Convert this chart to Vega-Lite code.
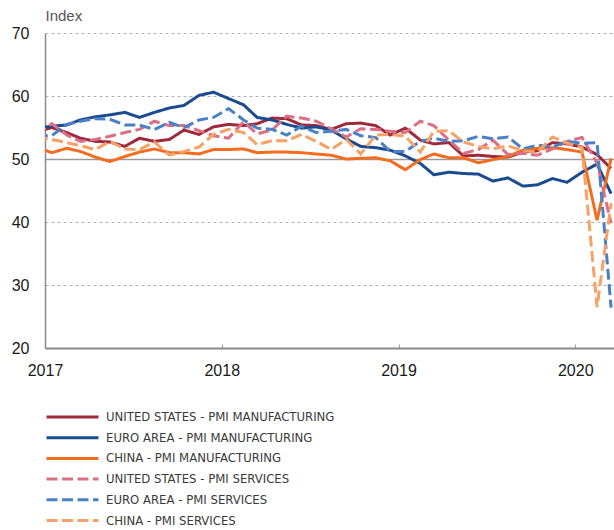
{
"$schema":"https://vega.github.io/schema/vega-lite/v6.json",
"width":569,"height":315,
"autosize":{"type":"none"},
"padding":{"left":45,"top":33,"right":0,"bottom":182},
"background":"white",
"config":{"view":{"stroke":null},"font":"Liberation Sans",
"legend":{"orient":"none","legendX":0,"legendY":376,"direction":"vertical","symbolType":"stroke","symbolSize":2704,"symbolStrokeWidth":3,"clipHeight":16,"labelFont":"DejaVu Sans Condensed, Liberation Sans Narrow, sans-serif","labelFontSize":13,"labelColor":"#3a3a3a","labelLimit":500,"labelOffset":6,"rowPadding":4.7}},
"data":{"values":[
{"series":"UNITED STATES - PMI MANUFACTURING","date":"2016-12-15","value":54.3},
{"series":"UNITED STATES - PMI MANUFACTURING","date":"2017-01-15","value":55.0},
{"series":"UNITED STATES - PMI MANUFACTURING","date":"2017-02-15","value":54.2},
{"series":"UNITED STATES - PMI MANUFACTURING","date":"2017-03-15","value":53.3},
{"series":"UNITED STATES - PMI MANUFACTURING","date":"2017-04-15","value":52.8},
{"series":"UNITED STATES - PMI MANUFACTURING","date":"2017-05-15","value":52.7},
{"series":"UNITED STATES - PMI MANUFACTURING","date":"2017-06-15","value":52.0},
{"series":"UNITED STATES - PMI MANUFACTURING","date":"2017-07-15","value":53.3},
{"series":"UNITED STATES - PMI MANUFACTURING","date":"2017-08-15","value":52.8},
{"series":"UNITED STATES - PMI MANUFACTURING","date":"2017-09-15","value":53.1},
{"series":"UNITED STATES - PMI MANUFACTURING","date":"2017-10-15","value":54.6},
{"series":"UNITED STATES - PMI MANUFACTURING","date":"2017-11-15","value":53.9},
{"series":"UNITED STATES - PMI MANUFACTURING","date":"2017-12-15","value":55.1},
{"series":"UNITED STATES - PMI MANUFACTURING","date":"2018-01-15","value":55.5},
{"series":"UNITED STATES - PMI MANUFACTURING","date":"2018-02-15","value":55.3},
{"series":"UNITED STATES - PMI MANUFACTURING","date":"2018-03-15","value":55.6},
{"series":"UNITED STATES - PMI MANUFACTURING","date":"2018-04-15","value":56.5},
{"series":"UNITED STATES - PMI MANUFACTURING","date":"2018-05-15","value":56.4},
{"series":"UNITED STATES - PMI MANUFACTURING","date":"2018-06-15","value":55.4},
{"series":"UNITED STATES - PMI MANUFACTURING","date":"2018-07-15","value":55.3},
{"series":"UNITED STATES - PMI MANUFACTURING","date":"2018-08-15","value":54.7},
{"series":"UNITED STATES - PMI MANUFACTURING","date":"2018-09-15","value":55.6},
{"series":"UNITED STATES - PMI MANUFACTURING","date":"2018-10-15","value":55.7},
{"series":"UNITED STATES - PMI MANUFACTURING","date":"2018-11-15","value":55.3},
{"series":"UNITED STATES - PMI MANUFACTURING","date":"2018-12-15","value":53.8},
{"series":"UNITED STATES - PMI MANUFACTURING","date":"2019-01-15","value":54.9},
{"series":"UNITED STATES - PMI MANUFACTURING","date":"2019-02-15","value":53.0},
{"series":"UNITED STATES - PMI MANUFACTURING","date":"2019-03-15","value":52.4},
{"series":"UNITED STATES - PMI MANUFACTURING","date":"2019-04-15","value":52.6},
{"series":"UNITED STATES - PMI MANUFACTURING","date":"2019-05-15","value":50.5},
{"series":"UNITED STATES - PMI MANUFACTURING","date":"2019-06-15","value":50.6},
{"series":"UNITED STATES - PMI MANUFACTURING","date":"2019-07-15","value":50.4},
{"series":"UNITED STATES - PMI MANUFACTURING","date":"2019-08-15","value":50.3},
{"series":"UNITED STATES - PMI MANUFACTURING","date":"2019-09-15","value":51.1},
{"series":"UNITED STATES - PMI MANUFACTURING","date":"2019-10-15","value":51.3},
{"series":"UNITED STATES - PMI MANUFACTURING","date":"2019-11-15","value":52.6},
{"series":"UNITED STATES - PMI MANUFACTURING","date":"2019-12-15","value":52.4},
{"series":"UNITED STATES - PMI MANUFACTURING","date":"2020-01-15","value":51.9},
{"series":"UNITED STATES - PMI MANUFACTURING","date":"2020-02-15","value":50.7},
{"series":"UNITED STATES - PMI MANUFACTURING","date":"2020-03-15","value":48.5},
{"series":"EURO AREA - PMI MANUFACTURING","date":"2016-12-15","value":54.9},
{"series":"EURO AREA - PMI MANUFACTURING","date":"2017-01-15","value":55.2},
{"series":"EURO AREA - PMI MANUFACTURING","date":"2017-02-15","value":55.4},
{"series":"EURO AREA - PMI MANUFACTURING","date":"2017-03-15","value":56.2},
{"series":"EURO AREA - PMI MANUFACTURING","date":"2017-04-15","value":56.7},
{"series":"EURO AREA - PMI MANUFACTURING","date":"2017-05-15","value":57.0},
{"series":"EURO AREA - PMI MANUFACTURING","date":"2017-06-15","value":57.4},
{"series":"EURO AREA - PMI MANUFACTURING","date":"2017-07-15","value":56.6},
{"series":"EURO AREA - PMI MANUFACTURING","date":"2017-08-15","value":57.4},
{"series":"EURO AREA - PMI MANUFACTURING","date":"2017-09-15","value":58.1},
{"series":"EURO AREA - PMI MANUFACTURING","date":"2017-10-15","value":58.5},
{"series":"EURO AREA - PMI MANUFACTURING","date":"2017-11-15","value":60.1},
{"series":"EURO AREA - PMI MANUFACTURING","date":"2017-12-15","value":60.6},
{"series":"EURO AREA - PMI MANUFACTURING","date":"2018-01-15","value":59.6},
{"series":"EURO AREA - PMI MANUFACTURING","date":"2018-02-15","value":58.6},
{"series":"EURO AREA - PMI MANUFACTURING","date":"2018-03-15","value":56.6},
{"series":"EURO AREA - PMI MANUFACTURING","date":"2018-04-15","value":56.2},
{"series":"EURO AREA - PMI MANUFACTURING","date":"2018-05-15","value":55.5},
{"series":"EURO AREA - PMI MANUFACTURING","date":"2018-06-15","value":54.9},
{"series":"EURO AREA - PMI MANUFACTURING","date":"2018-07-15","value":55.1},
{"series":"EURO AREA - PMI MANUFACTURING","date":"2018-08-15","value":54.6},
{"series":"EURO AREA - PMI MANUFACTURING","date":"2018-09-15","value":53.2},
{"series":"EURO AREA - PMI MANUFACTURING","date":"2018-10-15","value":52.0},
{"series":"EURO AREA - PMI MANUFACTURING","date":"2018-11-15","value":51.8},
{"series":"EURO AREA - PMI MANUFACTURING","date":"2018-12-15","value":51.4},
{"series":"EURO AREA - PMI MANUFACTURING","date":"2019-01-15","value":50.5},
{"series":"EURO AREA - PMI MANUFACTURING","date":"2019-02-15","value":49.3},
{"series":"EURO AREA - PMI MANUFACTURING","date":"2019-03-15","value":47.5},
{"series":"EURO AREA - PMI MANUFACTURING","date":"2019-04-15","value":47.9},
{"series":"EURO AREA - PMI MANUFACTURING","date":"2019-05-15","value":47.7},
{"series":"EURO AREA - PMI MANUFACTURING","date":"2019-06-15","value":47.6},
{"series":"EURO AREA - PMI MANUFACTURING","date":"2019-07-15","value":46.5},
{"series":"EURO AREA - PMI MANUFACTURING","date":"2019-08-15","value":47.0},
{"series":"EURO AREA - PMI MANUFACTURING","date":"2019-09-15","value":45.7},
{"series":"EURO AREA - PMI MANUFACTURING","date":"2019-10-15","value":45.9},
{"series":"EURO AREA - PMI MANUFACTURING","date":"2019-11-15","value":46.9},
{"series":"EURO AREA - PMI MANUFACTURING","date":"2019-12-15","value":46.3},
{"series":"EURO AREA - PMI MANUFACTURING","date":"2020-01-15","value":47.9},
{"series":"EURO AREA - PMI MANUFACTURING","date":"2020-02-15","value":49.2},
{"series":"EURO AREA - PMI MANUFACTURING","date":"2020-03-15","value":44.5},
{"series":"CHINA - PMI MANUFACTURING","date":"2016-12-15","value":51.9},
{"series":"CHINA - PMI MANUFACTURING","date":"2017-01-15","value":51.0},
{"series":"CHINA - PMI MANUFACTURING","date":"2017-02-15","value":51.7},
{"series":"CHINA - PMI MANUFACTURING","date":"2017-03-15","value":51.2},
{"series":"CHINA - PMI MANUFACTURING","date":"2017-04-15","value":50.3},
{"series":"CHINA - PMI MANUFACTURING","date":"2017-05-15","value":49.6},
{"series":"CHINA - PMI MANUFACTURING","date":"2017-06-15","value":50.4},
{"series":"CHINA - PMI MANUFACTURING","date":"2017-07-15","value":51.1},
{"series":"CHINA - PMI MANUFACTURING","date":"2017-08-15","value":51.6},
{"series":"CHINA - PMI MANUFACTURING","date":"2017-09-15","value":51.0},
{"series":"CHINA - PMI MANUFACTURING","date":"2017-10-15","value":51.0},
{"series":"CHINA - PMI MANUFACTURING","date":"2017-11-15","value":50.8},
{"series":"CHINA - PMI MANUFACTURING","date":"2017-12-15","value":51.5},
{"series":"CHINA - PMI MANUFACTURING","date":"2018-01-15","value":51.5},
{"series":"CHINA - PMI MANUFACTURING","date":"2018-02-15","value":51.6},
{"series":"CHINA - PMI MANUFACTURING","date":"2018-03-15","value":51.0},
{"series":"CHINA - PMI MANUFACTURING","date":"2018-04-15","value":51.1},
{"series":"CHINA - PMI MANUFACTURING","date":"2018-05-15","value":51.1},
{"series":"CHINA - PMI MANUFACTURING","date":"2018-06-15","value":51.0},
{"series":"CHINA - PMI MANUFACTURING","date":"2018-07-15","value":50.8},
{"series":"CHINA - PMI MANUFACTURING","date":"2018-08-15","value":50.6},
{"series":"CHINA - PMI MANUFACTURING","date":"2018-09-15","value":50.0},
{"series":"CHINA - PMI MANUFACTURING","date":"2018-10-15","value":50.1},
{"series":"CHINA - PMI MANUFACTURING","date":"2018-11-15","value":50.2},
{"series":"CHINA - PMI MANUFACTURING","date":"2018-12-15","value":49.7},
{"series":"CHINA - PMI MANUFACTURING","date":"2019-01-15","value":48.3},
{"series":"CHINA - PMI MANUFACTURING","date":"2019-02-15","value":49.9},
{"series":"CHINA - PMI MANUFACTURING","date":"2019-03-15","value":50.8},
{"series":"CHINA - PMI MANUFACTURING","date":"2019-04-15","value":50.2},
{"series":"CHINA - PMI MANUFACTURING","date":"2019-05-15","value":50.2},
{"series":"CHINA - PMI MANUFACTURING","date":"2019-06-15","value":49.4},
{"series":"CHINA - PMI MANUFACTURING","date":"2019-07-15","value":49.9},
{"series":"CHINA - PMI MANUFACTURING","date":"2019-08-15","value":50.4},
{"series":"CHINA - PMI MANUFACTURING","date":"2019-09-15","value":51.4},
{"series":"CHINA - PMI MANUFACTURING","date":"2019-10-15","value":51.7},
{"series":"CHINA - PMI MANUFACTURING","date":"2019-11-15","value":51.8},
{"series":"CHINA - PMI MANUFACTURING","date":"2019-12-15","value":51.5},
{"series":"CHINA - PMI MANUFACTURING","date":"2020-01-15","value":51.1},
{"series":"CHINA - PMI MANUFACTURING","date":"2020-02-15","value":40.3},
{"series":"CHINA - PMI MANUFACTURING","date":"2020-03-15","value":50.1},
{"series":"UNITED STATES - PMI SERVICES","date":"2016-12-15","value":53.9},
{"series":"UNITED STATES - PMI SERVICES","date":"2017-01-15","value":55.6},
{"series":"UNITED STATES - PMI SERVICES","date":"2017-02-15","value":53.8},
{"series":"UNITED STATES - PMI SERVICES","date":"2017-03-15","value":52.8},
{"series":"UNITED STATES - PMI SERVICES","date":"2017-04-15","value":53.1},
{"series":"UNITED STATES - PMI SERVICES","date":"2017-05-15","value":53.6},
{"series":"UNITED STATES - PMI SERVICES","date":"2017-06-15","value":54.2},
{"series":"UNITED STATES - PMI SERVICES","date":"2017-07-15","value":54.7},
{"series":"UNITED STATES - PMI SERVICES","date":"2017-08-15","value":56.0},
{"series":"UNITED STATES - PMI SERVICES","date":"2017-09-15","value":55.3},
{"series":"UNITED STATES - PMI SERVICES","date":"2017-10-15","value":55.3},
{"series":"UNITED STATES - PMI SERVICES","date":"2017-11-15","value":54.5},
{"series":"UNITED STATES - PMI SERVICES","date":"2017-12-15","value":53.7},
{"series":"UNITED STATES - PMI SERVICES","date":"2018-01-15","value":53.3},
{"series":"UNITED STATES - PMI SERVICES","date":"2018-02-15","value":55.9},
{"series":"UNITED STATES - PMI SERVICES","date":"2018-03-15","value":54.0},
{"series":"UNITED STATES - PMI SERVICES","date":"2018-04-15","value":54.6},
{"series":"UNITED STATES - PMI SERVICES","date":"2018-05-15","value":56.8},
{"series":"UNITED STATES - PMI SERVICES","date":"2018-06-15","value":56.5},
{"series":"UNITED STATES - PMI SERVICES","date":"2018-07-15","value":56.0},
{"series":"UNITED STATES - PMI SERVICES","date":"2018-08-15","value":54.8},
{"series":"UNITED STATES - PMI SERVICES","date":"2018-09-15","value":53.5},
{"series":"UNITED STATES - PMI SERVICES","date":"2018-10-15","value":54.8},
{"series":"UNITED STATES - PMI SERVICES","date":"2018-11-15","value":54.7},
{"series":"UNITED STATES - PMI SERVICES","date":"2018-12-15","value":54.4},
{"series":"UNITED STATES - PMI SERVICES","date":"2019-01-15","value":54.2},
{"series":"UNITED STATES - PMI SERVICES","date":"2019-02-15","value":56.0},
{"series":"UNITED STATES - PMI SERVICES","date":"2019-03-15","value":55.3},
{"series":"UNITED STATES - PMI SERVICES","date":"2019-04-15","value":53.0},
{"series":"UNITED STATES - PMI SERVICES","date":"2019-05-15","value":50.9},
{"series":"UNITED STATES - PMI SERVICES","date":"2019-06-15","value":51.5},
{"series":"UNITED STATES - PMI SERVICES","date":"2019-07-15","value":53.0},
{"series":"UNITED STATES - PMI SERVICES","date":"2019-08-15","value":50.7},
{"series":"UNITED STATES - PMI SERVICES","date":"2019-09-15","value":50.9},
{"series":"UNITED STATES - PMI SERVICES","date":"2019-10-15","value":50.6},
{"series":"UNITED STATES - PMI SERVICES","date":"2019-11-15","value":51.6},
{"series":"UNITED STATES - PMI SERVICES","date":"2019-12-15","value":52.8},
{"series":"UNITED STATES - PMI SERVICES","date":"2020-01-15","value":53.4},
{"series":"UNITED STATES - PMI SERVICES","date":"2020-02-15","value":49.4},
{"series":"UNITED STATES - PMI SERVICES","date":"2020-03-15","value":39.8},
{"series":"EURO AREA - PMI SERVICES","date":"2016-12-15","value":53.7},
{"series":"EURO AREA - PMI SERVICES","date":"2017-01-15","value":53.7},
{"series":"EURO AREA - PMI SERVICES","date":"2017-02-15","value":55.5},
{"series":"EURO AREA - PMI SERVICES","date":"2017-03-15","value":56.0},
{"series":"EURO AREA - PMI SERVICES","date":"2017-04-15","value":56.4},
{"series":"EURO AREA - PMI SERVICES","date":"2017-05-15","value":56.3},
{"series":"EURO AREA - PMI SERVICES","date":"2017-06-15","value":55.4},
{"series":"EURO AREA - PMI SERVICES","date":"2017-07-15","value":55.4},
{"series":"EURO AREA - PMI SERVICES","date":"2017-08-15","value":54.7},
{"series":"EURO AREA - PMI SERVICES","date":"2017-09-15","value":55.8},
{"series":"EURO AREA - PMI SERVICES","date":"2017-10-15","value":55.0},
{"series":"EURO AREA - PMI SERVICES","date":"2017-11-15","value":56.2},
{"series":"EURO AREA - PMI SERVICES","date":"2017-12-15","value":56.6},
{"series":"EURO AREA - PMI SERVICES","date":"2018-01-15","value":58.0},
{"series":"EURO AREA - PMI SERVICES","date":"2018-02-15","value":56.2},
{"series":"EURO AREA - PMI SERVICES","date":"2018-03-15","value":54.9},
{"series":"EURO AREA - PMI SERVICES","date":"2018-04-15","value":54.7},
{"series":"EURO AREA - PMI SERVICES","date":"2018-05-15","value":53.8},
{"series":"EURO AREA - PMI SERVICES","date":"2018-06-15","value":55.2},
{"series":"EURO AREA - PMI SERVICES","date":"2018-07-15","value":54.2},
{"series":"EURO AREA - PMI SERVICES","date":"2018-08-15","value":54.4},
{"series":"EURO AREA - PMI SERVICES","date":"2018-09-15","value":54.7},
{"series":"EURO AREA - PMI SERVICES","date":"2018-10-15","value":53.7},
{"series":"EURO AREA - PMI SERVICES","date":"2018-11-15","value":53.4},
{"series":"EURO AREA - PMI SERVICES","date":"2018-12-15","value":51.2},
{"series":"EURO AREA - PMI SERVICES","date":"2019-01-15","value":51.2},
{"series":"EURO AREA - PMI SERVICES","date":"2019-02-15","value":52.8},
{"series":"EURO AREA - PMI SERVICES","date":"2019-03-15","value":53.3},
{"series":"EURO AREA - PMI SERVICES","date":"2019-04-15","value":52.8},
{"series":"EURO AREA - PMI SERVICES","date":"2019-05-15","value":52.9},
{"series":"EURO AREA - PMI SERVICES","date":"2019-06-15","value":53.6},
{"series":"EURO AREA - PMI SERVICES","date":"2019-07-15","value":53.2},
{"series":"EURO AREA - PMI SERVICES","date":"2019-08-15","value":53.5},
{"series":"EURO AREA - PMI SERVICES","date":"2019-09-15","value":51.6},
{"series":"EURO AREA - PMI SERVICES","date":"2019-10-15","value":52.2},
{"series":"EURO AREA - PMI SERVICES","date":"2019-11-15","value":51.9},
{"series":"EURO AREA - PMI SERVICES","date":"2019-12-15","value":52.8},
{"series":"EURO AREA - PMI SERVICES","date":"2020-01-15","value":52.5},
{"series":"EURO AREA - PMI SERVICES","date":"2020-02-15","value":52.6},
{"series":"EURO AREA - PMI SERVICES","date":"2020-03-15","value":26.4},
{"series":"CHINA - PMI SERVICES","date":"2016-12-15","value":53.4},
{"series":"CHINA - PMI SERVICES","date":"2017-01-15","value":53.1},
{"series":"CHINA - PMI SERVICES","date":"2017-02-15","value":52.6},
{"series":"CHINA - PMI SERVICES","date":"2017-03-15","value":52.1},
{"series":"CHINA - PMI SERVICES","date":"2017-04-15","value":51.5},
{"series":"CHINA - PMI SERVICES","date":"2017-05-15","value":52.8},
{"series":"CHINA - PMI SERVICES","date":"2017-06-15","value":51.6},
{"series":"CHINA - PMI SERVICES","date":"2017-07-15","value":51.5},
{"series":"CHINA - PMI SERVICES","date":"2017-08-15","value":52.7},
{"series":"CHINA - PMI SERVICES","date":"2017-09-15","value":50.6},
{"series":"CHINA - PMI SERVICES","date":"2017-10-15","value":51.2},
{"series":"CHINA - PMI SERVICES","date":"2017-11-15","value":51.9},
{"series":"CHINA - PMI SERVICES","date":"2017-12-15","value":53.9},
{"series":"CHINA - PMI SERVICES","date":"2018-01-15","value":54.7},
{"series":"CHINA - PMI SERVICES","date":"2018-02-15","value":54.2},
{"series":"CHINA - PMI SERVICES","date":"2018-03-15","value":52.3},
{"series":"CHINA - PMI SERVICES","date":"2018-04-15","value":52.9},
{"series":"CHINA - PMI SERVICES","date":"2018-05-15","value":52.9},
{"series":"CHINA - PMI SERVICES","date":"2018-06-15","value":53.9},
{"series":"CHINA - PMI SERVICES","date":"2018-07-15","value":52.8},
{"series":"CHINA - PMI SERVICES","date":"2018-08-15","value":51.5},
{"series":"CHINA - PMI SERVICES","date":"2018-09-15","value":53.1},
{"series":"CHINA - PMI SERVICES","date":"2018-10-15","value":50.8},
{"series":"CHINA - PMI SERVICES","date":"2018-11-15","value":53.8},
{"series":"CHINA - PMI SERVICES","date":"2018-12-15","value":53.9},
{"series":"CHINA - PMI SERVICES","date":"2019-01-15","value":53.6},
{"series":"CHINA - PMI SERVICES","date":"2019-02-15","value":51.1},
{"series":"CHINA - PMI SERVICES","date":"2019-03-15","value":54.4},
{"series":"CHINA - PMI SERVICES","date":"2019-04-15","value":54.5},
{"series":"CHINA - PMI SERVICES","date":"2019-05-15","value":52.7},
{"series":"CHINA - PMI SERVICES","date":"2019-06-15","value":52.0},
{"series":"CHINA - PMI SERVICES","date":"2019-07-15","value":51.6},
{"series":"CHINA - PMI SERVICES","date":"2019-08-15","value":52.1},
{"series":"CHINA - PMI SERVICES","date":"2019-09-15","value":51.3},
{"series":"CHINA - PMI SERVICES","date":"2019-10-15","value":51.1},
{"series":"CHINA - PMI SERVICES","date":"2019-11-15","value":53.5},
{"series":"CHINA - PMI SERVICES","date":"2019-12-15","value":52.5},
{"series":"CHINA - PMI SERVICES","date":"2020-01-15","value":51.8},
{"series":"CHINA - PMI SERVICES","date":"2020-02-15","value":26.5},
{"series":"CHINA - PMI SERVICES","date":"2020-03-15","value":43.0}
]},
"mark":{"type":"line","strokeWidth":3,"clip":true},
"encoding":{
"x":{"field":"date","type":"temporal",
"scale":{"type":"utc","domain":[{"year":2017,"month":1,"date":1,"utc":true},{"year":2020,"month":3,"date":21,"utc":true}]},
"axis":{"title":null,"values":[{"year":2017,"month":1,"date":1,"utc":true},{"year":2018,"month":1,"date":1,"utc":true},{"year":2019,"month":1,"date":1,"utc":true},{"year":2020,"month":1,"date":1,"utc":true}],"format":"%Y","labelFontSize":16,"labelColor":"#1a1a1a","labelFlush":false,"domainColor":"#8a8a8a","domainWidth":2,"tickColor":"#9a9a9a","tickWidth":1,"tickSize":-4,"labelPadding":18,"grid":false}},
"y":{"field":"value","type":"quantitative",
"scale":{"domain":[20,70],"nice":false,"zero":false},
"axis":{"title":"Index","titleAngle":0,"titleAlign":"left","titleBaseline":"alphabetic","titleX":0,"titleY":-13,"titleFontSize":15,"titleFontWeight":"normal","titleColor":"#555555","values":[20,30,40,50,60,70],"ticks":false,"labelPadding":16,"labelFontSize":16,"labelColor":"#1a1a1a","domainColor":"#8a8a8a","domainWidth":1.5,"grid":true,
"gridDash":{"condition":{"test":"datum.value === 50","value":[]},"value":[3,3]},
"gridColor":{"condition":{"test":"datum.value === 50","value":"#9a9a9a"},"value":"#b0b0b0"},
"gridWidth":{"condition":{"test":"datum.value === 50","value":1.5},"value":1}}},
"color":{"field":"series","type":"nominal","title":null,
"scale":{"domain":["UNITED STATES - PMI MANUFACTURING","EURO AREA - PMI MANUFACTURING","CHINA - PMI MANUFACTURING","UNITED STATES - PMI SERVICES","EURO AREA - PMI SERVICES","CHINA - PMI SERVICES"],
"range":["#9e2a3b","#1b4b8f","#f36d21","#dc6f83","#4a80c6","#f8a165"]}},
"strokeDash":{"field":"series","type":"nominal","title":null,
"scale":{"domain":["UNITED STATES - PMI MANUFACTURING","EURO AREA - PMI MANUFACTURING","CHINA - PMI MANUFACTURING","UNITED STATES - PMI SERVICES","EURO AREA - PMI SERVICES","CHINA - PMI SERVICES"],
"range":[[1,0],[1,0],[1,0],[11,4.5],[11,4.5],[11,4.5]]}}
}
}
